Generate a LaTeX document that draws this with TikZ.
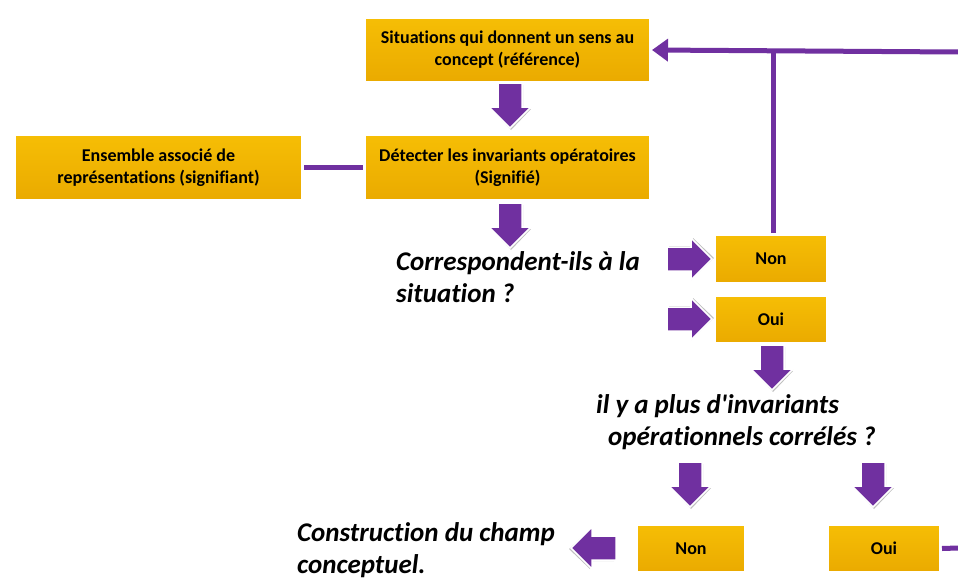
\documentclass[tikz,border=0pt]{standalone}
\usepackage{fontspec}
\setmainfont{Carlito}[Ligatures={NoCommon,TeXOff}]
\usetikzlibrary{arrows.meta,shadows}
\definecolor{goldtop}{RGB}{246,190,5}
\definecolor{goldbot}{RGB}{234,170,0}
\definecolor{violet}{RGB}{112,48,160}
\tikzset{
  gbox/.style={rectangle, inner sep=0pt, align=center, text=black,
    font=\fontsize{18}{22}\selectfont\bfseries,
    top color=goldtop, bottom color=goldbot, draw=white, line width=3pt,
    drop shadow={opacity=0.35, shadow xshift=1.5pt, shadow yshift=-1.5pt}},
  qtext/.style={align=left, inner sep=0pt, anchor=north west, text=black,
    font=\fontsize{27}{32}\selectfont\bfseries\itshape},
  vline/.style={draw=violet, line width=5pt},
  barr/.pic={
    \fill[black, opacity=0.25] (-11,2) -- (-11,26) -- (-19,26) -- (1,47) -- (21,26) -- (13,26) -- (13,2) -- cycle;
    \filldraw[fill=violet, draw=white, line width=1.5pt, line join=miter]
      (-12,0) -- (-12,24) -- (-21,24) -- (0,45) -- (21,24) -- (12,24) -- (12,0) -- cycle;}
}
\begin{document}
\begin{tikzpicture}[x=1pt,y=-1pt]
\fill[white] (0,0) rectangle (958,578);
\useasboundingbox (0,0) rectangle (958,578);

\node[gbox, minimum width=286pt, minimum height=65pt] (sit) at (507.5,50) {Situations qui donnent un sens au\\concept (référence)};
\node[gbox, minimum width=288pt, minimum height=66pt] (ens) at (158.5,167.5) {Ensemble associé de\\représentations (signifiant)};
\node[gbox, minimum width=286pt, minimum height=66pt] (det) at (507.5,167.5) {Détecter les invariants opératoires\\(Signifié)};
\node[gbox, minimum width=113pt, minimum height=49pt] (non1) at (771,259) {Non};
\node[gbox, minimum width=113pt, minimum height=48pt] (oui1) at (771,319.5) {Oui};
\node[gbox, minimum width=109pt, minimum height=48pt] (non2) at (691,548.5) {Non};
\node[gbox, minimum width=113pt, minimum height=48pt] (oui2) at (884,548.5) {Oui};

\node[qtext] (q1) at (396,251) {Correspondent-ils à la\\situation ?};
\node[qtext] (q2) at (596,394) {il y a plus d'invariants\\\hspace*{12pt}opérationnels corrélés ?};
\node[qtext] (q3) at (297,522) {Construction du champ\\conceptuel.};

\coordinate (rtop) at (958,52);
\coordinate (rbot) at (958,548);
\coordinate (joint) at (773,52);

\draw[vline] (ens.east) -- (det.west);
\draw[vline] (non1.north -| joint) -- (joint);
\draw[vline, -{Triangle[length=16pt,width=22pt]}] (rtop) -- (sit.east);
\draw[vline] (oui2.east) -- (rbot);

\pic at (510,83) {barr};
\pic at (510,203) {barr};
\pic[rotate=90] at (667,259) {barr};
\pic[rotate=90] at (667,319) {barr};
\pic at (772,345) {barr};
\pic at (690,462) {barr};
\pic at (873,462) {barr};
\pic[rotate=-90] at (616,548) {barr};
\end{tikzpicture}
\end{document}
